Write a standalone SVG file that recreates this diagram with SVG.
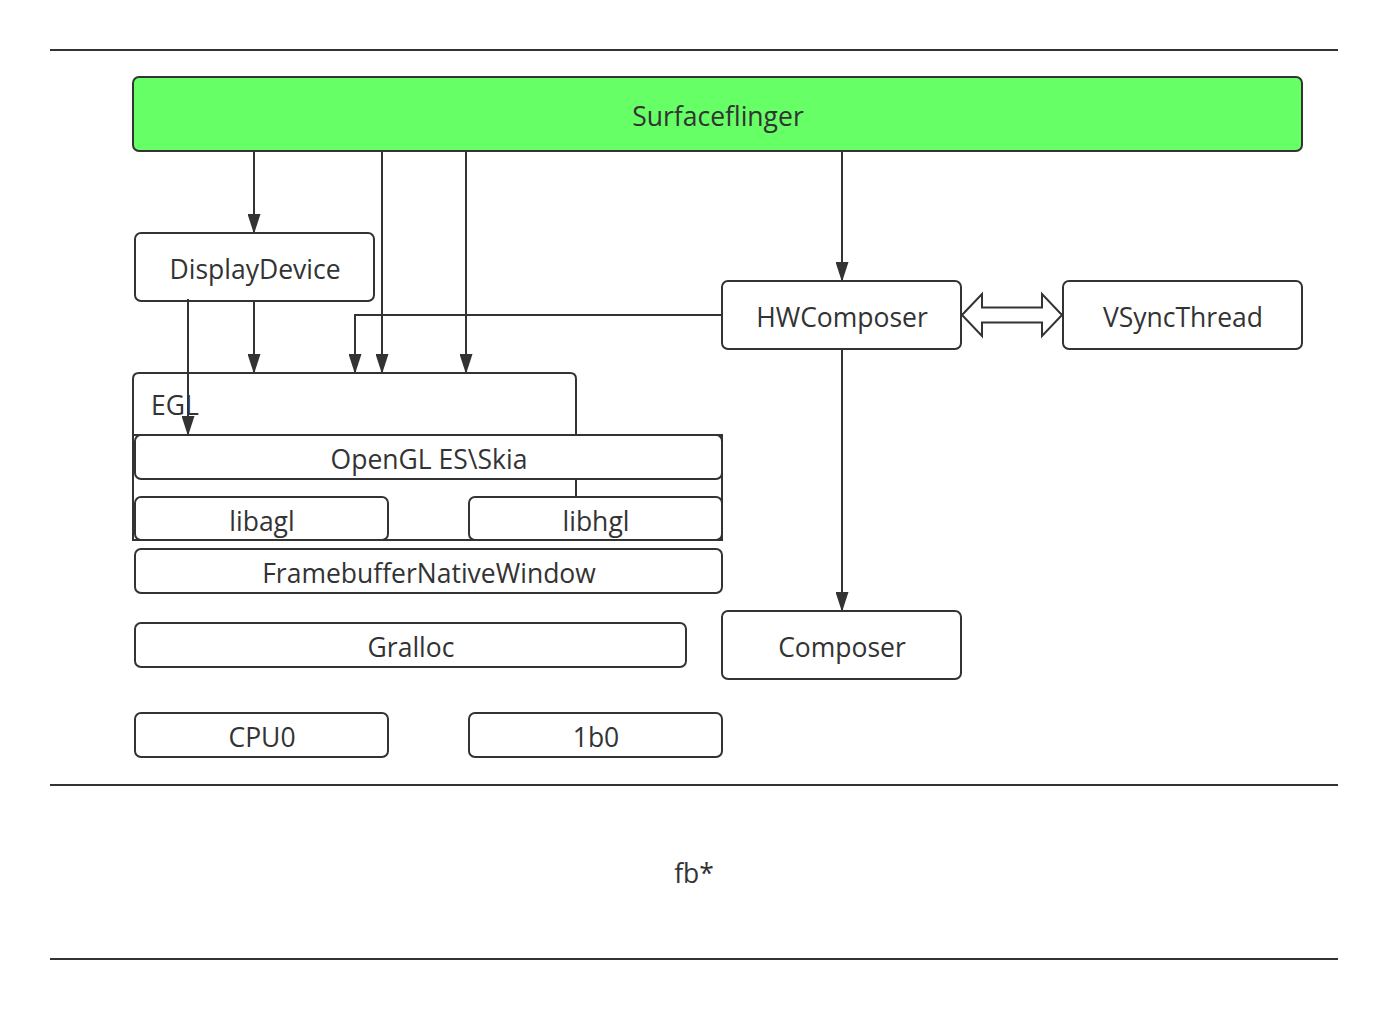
<svg xmlns="http://www.w3.org/2000/svg" width="1388" height="1009" viewBox="0 0 1388 1009">
<style>
.box{fill:#fff;stroke:#333;stroke-width:2}
.ln{fill:none;stroke:#333;stroke-width:2}
.t{font-family:"Open Sans","Noto Sans",sans-serif;font-size:26.5px;fill:#333;text-anchor:middle;dominant-baseline:central}
</style>
<defs>
<marker id="ah" markerWidth="20" markerHeight="13" refX="20" refY="6.5" viewBox="0 0 20 13" markerUnits="userSpaceOnUse" orient="auto">
<path d="M0,0 L20,6.5 L0,13 Z" fill="#333"/>
</marker>
</defs>
<rect width="1388" height="1009" fill="#fff"/>
<g id="separators">
<line class="ln" x1="50" y1="50" x2="1338" y2="50"/>
<line class="ln" x1="50" y1="785" x2="1338" y2="785"/>
<line class="ln" x1="50" y1="959" x2="1338" y2="959"/>
</g>
<g id="EGL">
<rect x="133" y="435" width="589" height="105" fill="none" stroke="#333" stroke-width="2"/>
<path d="M133,540 V379 Q133,373 139,373 H570 Q576,373 576,379 V540" fill="none" stroke="#333" stroke-width="2"/>
<text x="151" y="405" font-family="'Open Sans','Noto Sans',sans-serif" font-size="26.5" fill="#333" dominant-baseline="central">EGL</text>
</g>
<g id="surfaceflinger">
<rect x="133" y="77" width="1169" height="74" rx="6" fill="#66ff66" stroke="#333" stroke-width="2"/>
<text class="t" x="718" y="116">Surfaceflinger</text>
</g>
<g id="displaydevice">
<rect class="box" x="135" y="233" width="239" height="68" rx="6"/>
<text class="t" x="255" y="269">DisplayDevice</text>
</g>
<g id="hwcomposer">
<rect class="box" x="722" y="281" width="239" height="68" rx="6"/>
<text class="t" x="842" y="317">HWComposer</text>
</g>
<g id="vsyncthread">
<rect class="box" x="1063" y="281" width="239" height="68" rx="6"/>
<text class="t" x="1183" y="317">VSyncThread</text>
</g>
<g id="opengl">
<rect class="box" x="135" y="435" width="587" height="44" rx="6"/>
<text class="t" x="429" y="459">OpenGL ES\Skia</text>
</g>
<g id="libagl">
<rect class="box" x="135" y="497" width="253" height="43" rx="6"/>
<text class="t" x="262" y="521">libagl</text>
</g>
<g id="libhgl">
<rect class="box" x="469" y="497" width="253" height="43" rx="6"/>
<text class="t" x="596" y="521">libhgl</text>
</g>
<g id="framebuffer">
<rect class="box" x="135" y="549" width="587" height="44" rx="6"/>
<text class="t" x="429" y="573">FramebufferNativeWindow</text>
</g>
<g id="gralloc">
<rect class="box" x="135" y="623" width="551" height="44" rx="6"/>
<text class="t" x="411" y="647">Gralloc</text>
</g>
<g id="composer">
<rect class="box" x="722" y="611" width="239" height="68" rx="6"/>
<text class="t" x="842" y="647">Composer</text>
</g>
<g id="cpu0">
<rect class="box" x="135" y="713" width="253" height="44" rx="6"/>
<text class="t" x="262" y="737">CPU0</text>
</g>
<g id="lb0">
<rect class="box" x="469" y="713" width="253" height="44" rx="6"/>
<text class="t" x="596" y="737">1b0</text>
</g>
<g id="fb">
<text class="t" x="694" y="873">fb*</text>
</g>
<g id="connectors">
<line class="ln" x1="254" y1="151" x2="254" y2="234" marker-end="url(#ah)"/>
<line class="ln" x1="254" y1="301" x2="254" y2="374" marker-end="url(#ah)"/>
<line class="ln" x1="382" y1="151" x2="382" y2="374" marker-end="url(#ah)"/>
<line class="ln" x1="466" y1="151" x2="466" y2="374" marker-end="url(#ah)"/>
<line class="ln" x1="188" y1="299" x2="188" y2="436" marker-end="url(#ah)"/>
<polyline class="ln" points="722,315 355,315 355,374" marker-end="url(#ah)"/>
<line class="ln" x1="842" y1="151" x2="842" y2="282" marker-end="url(#ah)"/>
<line class="ln" x1="842" y1="349" x2="842" y2="612" marker-end="url(#ah)"/>
<path d="M962,315 L982,294 L982,307.5 L1042,307.5 L1042,294 L1062,315 L1042,336 L1042,322.5 L982,322.5 L982,336 Z" fill="#fff" stroke="#333" stroke-width="2" stroke-linejoin="miter"/>
</g>
</svg>
